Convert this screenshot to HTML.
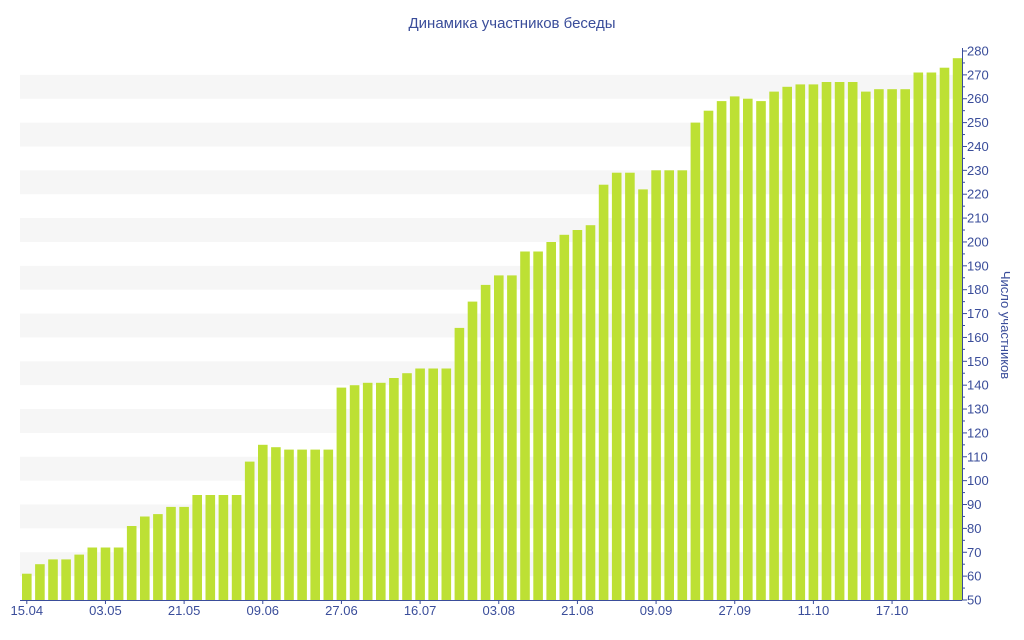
<!DOCTYPE html>
<html><head><meta charset="utf-8"><style>
body{margin:0;background:#fff;}
svg{display:block;font-family:"Liberation Sans","DejaVu Sans",sans-serif;}
</style></head><body>
<svg id="s" width="1024" height="640" xmlns="http://www.w3.org/2000/svg">
<text x="512" y="28" text-anchor="middle" font-size="15" fill="#3a4d9a">Динамика участников беседы</text>
<g id="g"></g>
<text transform="translate(1001,325) rotate(90)" text-anchor="middle" font-size="13" fill="#3a4d9a">Число участников</text>
</svg>
<script>
var v=[61,65,67,67,69,72,72,72,81,85,86,89,89,94,94,94,94,108,115,114,113,113,113,113,139,140,141,141,143,145,147,147,147,164,175,182,186,186,196,196,200,203,205,207,224,229,229,222,230,230,230,250,255,259,261,260,259,263,265,266,266,267,267,267,263,264,264,264,271,271,273,277];
function Y(u){return 600-(u-50)*549/230;}
var h='';
for(var u=60;u<280;u+=20){h+='<rect x="20" y="'+Y(u+10)+'" width="942" height="'+(Y(u)-Y(u+10))+'" fill="#f6f6f6"/>';}
for(var i=0;i<v.length;i++){var x=22+i*13.11;h+='<rect x="'+x.toFixed(1)+'" y="'+Y(v[i]).toFixed(1)+'" width="9.6" height="'+(600-Y(v[i])).toFixed(1)+'" fill="#bde034"/>';}
h+='<line x1="962.5" y1="48" x2="962.5" y2="600" stroke="#3a4d9a"/>';
for(var u=50;u<=280;u+=5){var y=Y(u);h+='<line x1="962" x2="'+(u%10?965:967)+'" y1="'+y+'" y2="'+y+'" stroke="#3a4d9a"/>';if(u%10==0)h+='<text x="967" y="'+(y+4.5)+'" font-size="13" fill="#3a4d9a">'+u+'</text>';}
h+='<line x1="20" y1="600.5" x2="962" y2="600.5" stroke="#3a4d9a"/>';
var L=['15.04','03.05','21.05','09.06','27.06','16.07','03.08','21.08','09.09','27.09','11.10','17.10'];
for(var k=0;k<L.length;k++){var x=26.8+k*6*13.11;h+='<line x1="'+x+'" x2="'+x+'" y1="600" y2="604" stroke="#3a4d9a"/><text x="'+x+'" y="615" text-anchor="middle" font-size="13" fill="#3a4d9a">'+L[k]+'</text>';}
document.getElementById('g').innerHTML=h;
</script>
</body></html>
